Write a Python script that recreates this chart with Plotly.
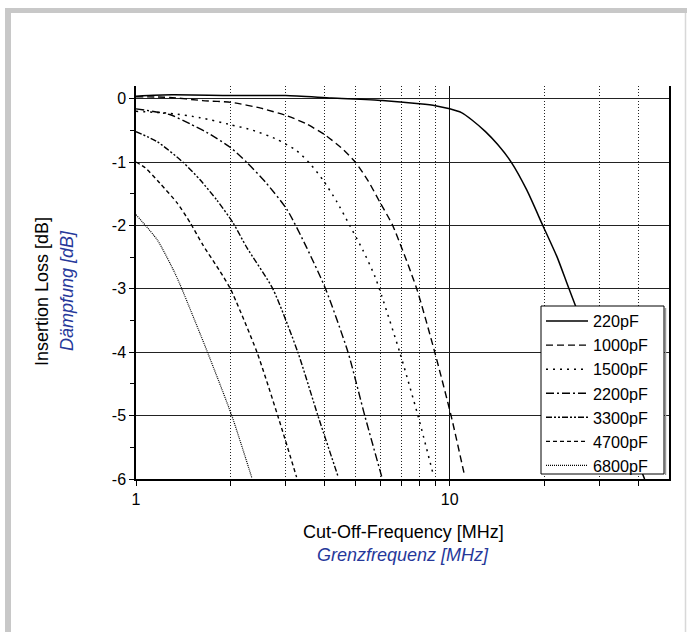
import math
import plotly.graph_objects as go

# ---------------- data ----------------
labels = ["220pF", "1000pF", "1500pF", "2200pF", "3300pF", "4700pF", "6800pF"]

f_220 = [1, 1.3, 2, 3, 4.2, 6.1, 8, 9, 10, 10.9, 11.8, 13, 14.2, 15.7, 17.6, 19.8, 22, 24, 28.7, 34.8, 41.8]
db_220 = [0.04, 0.06, 0.05, 0.05, 0.01, -0.03, -0.08, -0.11, -0.16, -0.22, -0.34, -0.52, -0.72, -1.0, -1.44, -2.0, -2.5, -3.0, -4.0, -5.0, -6.0]

f_1000 = [1, 1.28, 1.63, 2.02, 2.5, 3.03, 3.5, 4.0, 4.5, 5.0, 5.5, 6.0, 6.58, 7.85, 8.96, 10.1, 11.1]
db_1000 = [0.03, 0.02, -0.03, -0.06, -0.15, -0.27, -0.4, -0.57, -0.77, -1.0, -1.3, -1.64, -2.0, -3.0, -4.0, -5.0, -5.9]

f_1500 = [1, 1.28, 1.6, 2.0, 2.36, 2.81, 3.25, 3.58, 3.94, 4.36, 4.8, 5.3, 5.77, 6.06, 6.93, 7.92, 8.83]
db_1500 = [-0.2, -0.23, -0.3, -0.41, -0.5, -0.64, -0.82, -1.02, -1.28, -1.62, -2.0, -2.4, -2.8, -3.1, -4.0, -5.0, -5.9]

f_2200 = [1, 1.28, 1.49, 1.68, 2.0, 2.25, 2.6, 3.03, 3.5, 4.02, 4.74, 5.36, 6.1]
db_2200 = [-0.16, -0.25, -0.4, -0.53, -0.77, -1.0, -1.33, -1.75, -2.35, -3.0, -4.0, -5.0, -6.0]

f_3300 = [1, 1.17, 1.41, 1.6, 1.81, 2.04, 2.25, 2.73, 3.28, 3.8, 4.4]
db_3300 = [-0.52, -0.68, -1.0, -1.28, -1.6, -1.96, -2.34, -3.0, -4.0, -5.0, -5.95]

f_4700 = [1, 1.07, 1.19, 1.35, 1.49, 1.63, 1.85, 2.0, 2.43, 2.83, 3.25]
db_4700 = [-1.0, -1.09, -1.33, -1.64, -1.96, -2.3, -2.72, -3.0, -4.0, -5.0, -5.97]

f_6800 = [1, 1.17, 1.33, 1.4, 1.69, 2.02, 2.34]
db_6800 = [-1.83, -2.23, -2.75, -3.0, -4.0, -5.0, -5.98]

x_tickvals = [1, 10]
x_ticktext = ["1", "10"]
x_minorvals = [2, 3, 4, 5, 6, 7, 8, 9, 20, 30, 40]
y_tickvals = [0, -1, -2, -3, -4, -5, -6]
y_ticktext = ["0", "-1", "-2", "-3", "-4", "-5", "-6"]
y_minorvals = [-0.5, -1.5, -2.5, -3.5, -4.5, -5.5]

# ---------------- styling ----------------
W, H = 687, 632
L, R, T, B = 136, 669, 86, 479  # plot area in pixels
FONT = "Arial, Liberation Sans, sans-serif"
BLUE = "#26389a"


def px(x):
    return (x - L) / (R - L)


def py(y):
    return (B - y) / (B - T)


series = [
    (labels[0], f_220, db_220, "solid", 1.5),
    (labels[1], f_1000, db_1000, "7px,4px", 1.4),
    (labels[2], f_1500, db_1500, "2px,5px", 1.5),
    (labels[3], f_2200, db_2200, "8px,3px,2px,3px", 1.4),
    (labels[4], f_3300, db_3300, "6px,2px,2px,2px,2px,2px", 1.4),
    (labels[5], f_4700, db_4700, "4px,3px", 1.4),
    (labels[6], f_6800, db_6800, "1px,1px", 1.2),
]

fig = go.Figure()
for name, fx, dy, dash, w in series:
    fig.add_trace(go.Scatter(
        x=fx, y=dy, name=name, mode="lines",
        line=dict(color="black", width=w, dash=dash, shape="spline", smoothing=0.6),
        cliponaxis=True,
    ))

shapes = [
    # grey frame (top band, left band, right thin line)
    dict(type="rect", xref="paper", yref="paper", x0=px(5), x1=px(687), y0=py(13), y1=py(8),
         fillcolor="#c8c8c8", line=dict(width=0), layer="below"),
    dict(type="rect", xref="paper", yref="paper", x0=px(5), x1=px(11), y0=py(632), y1=py(8),
         fillcolor="#c8c8c8", line=dict(width=0), layer="below"),
    dict(type="line", xref="paper", yref="paper", x0=px(685.5), x1=px(685.5), y0=py(632), y1=py(13),
         line=dict(color="#d8d8d8", width=1.5), layer="below"),
    # legend box with a faint shadow on its right side
    dict(type="line", xref="paper", yref="paper", x0=px(665.5), x1=px(665.5), y0=py(475), y1=py(308),
         line=dict(color="#999999", width=1.5), layer="above"),
    dict(type="rect", xref="paper", yref="paper", x0=px(541), x1=px(664), y0=py(474), y1=py(306),
         fillcolor="white", line=dict(color="black", width=1), layer="above"),
]

annotations = [
    dict(text="Insertion Loss [dB]", xref="paper", yref="paper", x=px(42), y=py(292),
         xanchor="center", yanchor="middle",
         textangle=-90, showarrow=False, font=dict(family=FONT, size=18, color="black")),
    dict(text="<i>Dämpfung [dB]</i>", xref="paper", yref="paper", x=px(67), y=py(291),
         xanchor="center", yanchor="middle",
         textangle=-90, showarrow=False, font=dict(family=FONT, size=18, color=BLUE)),
    dict(text="Cut-Off-Frequency [MHz]", xref="paper", yref="paper", x=px(403), y=py(532),
         xanchor="center", yanchor="middle",
         showarrow=False, font=dict(family=FONT, size=18, color="black")),
    dict(text="<i>Grenzfrequenz [MHz]</i>", xref="paper", yref="paper", x=px(403), y=py(555),
         xanchor="center", yanchor="middle",
         showarrow=False, font=dict(family=FONT, size=18, color=BLUE)),
]

fig.update_layout(
    width=W, height=H, autosize=False,
    margin=dict(l=L, r=W - R, t=T, b=H - B, pad=0),
    paper_bgcolor="white", plot_bgcolor="white",
    font=dict(family=FONT, size=16, color="black"),
    shapes=shapes, annotations=annotations,
    showlegend=True,
    legend=dict(x=px(541), y=py(304), xanchor="left", yanchor="top",
                bgcolor="rgba(0,0,0,0)", borderwidth=0,
                font=dict(family=FONT, size=16.2, color="black"),
                itemwidth=42, traceorder="normal"),
    xaxis=dict(type="log", range=[0, math.log10(50)],
               tickvals=x_tickvals, ticktext=x_ticktext,
               ticks="outside", ticklen=5, tickwidth=1.2, tickcolor="black",
               showline=True, linecolor="black", linewidth=1.5, mirror=False,
               showgrid=True, gridcolor="#111111", gridwidth=1, zeroline=False,
               tickfont=dict(family=FONT, size=16, color="black"),
               minor=dict(tickvals=x_minorvals, ticks="outside", ticklen=5, tickwidth=1.2,
                          tickcolor="black", showgrid=True, gridcolor="#222222",
                          griddash="1px,2px", gridwidth=1)),
    yaxis=dict(range=[-6, 0.2], tickvals=y_tickvals, ticktext=y_ticktext,
               ticks="outside", ticklen=5, tickwidth=1.2, tickcolor="black",
               showline=True, linecolor="black", linewidth=1.5, mirror=True,
               showgrid=True, gridcolor="#222222", gridwidth=1.2, zeroline=False,
               tickfont=dict(family=FONT, size=16, color="black"),
               minor=dict(tickvals=y_minorvals, ticks="outside", ticklen=4, tickwidth=1.2,
                          tickcolor="black", showgrid=False)),
)

fig.write_html("out.html", config={"displayModeBar": False},
               post_script="document.body.style.margin='0';")
